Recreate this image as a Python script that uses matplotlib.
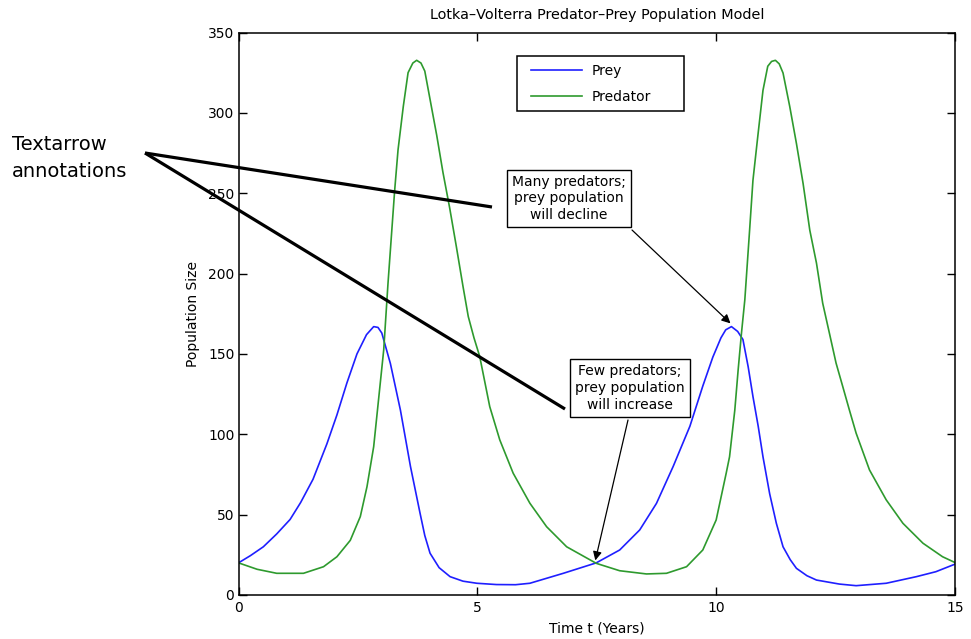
import matplotlib
matplotlib.use("Agg")
import matplotlib.pyplot as plt
from matplotlib.lines import Line2D
from matplotlib.patches import Rectangle

plt.rcParams['font.family'] = ['DejaVu Sans']

# values
prey_t = [0, 0.25, 0.52, 0.8, 1.08, 1.3, 1.56, 1.85, 2.06, 2.27, 2.48, 2.68, 2.83,
          2.92, 3.0, 3.18, 3.39, 3.6, 3.8, 3.9, 4.01, 4.2, 4.43, 4.7, 4.99,
          5.4, 5.8, 6.1, 6.8, 7.49, 7.98, 8.4, 8.75, 9.1, 9.45, 9.72, 9.93,
          10.1, 10.2, 10.32, 10.45, 10.56, 10.67, 10.77, 10.88, 10.98, 11.12,
          11.26, 11.4, 11.55, 11.68, 11.9, 12.1, 12.58, 12.93, 13.56, 14.19,
          14.6, 15.0]
prey = [20, 24.5, 30, 38, 47, 57.5, 72, 94, 112, 132, 150, 162, 167,
        166.5, 163, 144, 115, 80, 51, 37, 26, 17, 11.4, 8.6, 7.3,
        6.5, 6.4, 7.3, 13.5, 20, 28, 40.5, 57, 80, 105, 130, 148,
        160, 165, 167, 164, 159, 142, 123.5, 105, 86, 63,
        44.6, 30, 22, 16.6, 12, 9.3, 6.8, 5.8, 7.3, 11.4,
        14.5, 19.2]

pred_t = [0, 0.39, 0.8, 1.36, 1.78, 2.06, 2.34, 2.55, 2.69, 2.83, 2.93, 3.04,
          3.13, 3.2, 3.27, 3.34, 3.45, 3.55, 3.65, 3.73, 3.82, 3.9, 4.0, 4.15,
          4.28, 4.42, 4.56, 4.7, 4.81, 4.93, 5.05, 5.26, 5.47, 5.75, 6.1, 6.45,
          6.87, 7.49, 7.98, 8.54, 8.96, 9.38, 9.72, 10.0, 10.21, 10.28, 10.39,
          10.46, 10.53, 10.6, 10.7, 10.77, 10.87, 10.98, 11.08, 11.16, 11.24,
          11.32, 11.4, 11.54, 11.68, 11.82, 11.96, 12.1, 12.23, 12.37, 12.51,
          12.65, 12.79, 12.93, 13.21, 13.56, 13.91, 14.33, 14.74, 15.0]
pred = [20, 16, 13.5, 13.5, 17.6, 23.8, 34, 48.8, 67.4, 92.3, 121, 152.5,
        194, 223, 252, 277, 304, 325, 331, 332.7, 331, 326, 310, 286,
        263, 241, 216.9, 192, 173.3, 160, 148.4, 117.2, 96.5, 75.8, 57.1, 42.5,
        30, 19.7, 15.1, 13.1, 13.5, 17.6, 28, 46.7, 75.8, 86, 115,
        140, 163, 183.7, 227, 258, 285, 314, 329, 332, 332.7,
        330.5, 324.8, 304, 281, 256, 227, 206.5, 181.6, 163, 144.3,
        129.7, 115, 100.7, 77.8, 59.2, 44.6, 32.2, 23.8, 20.2]

x_ticks = [0, 5, 10, 15]
y_ticks = [0, 50, 100, 150, 200, 250, 300, 350]

W, H = 971, 639
fig = plt.figure(figsize=(W / 100, H / 100), dpi=100)
ax = fig.add_axes([238.5 / W, 1 - 595 / H, 716.5 / W, 562.5 / H])

ax.plot(prey_t, prey, color='#1f1fff', lw=1.2, label='Prey')
ax.plot(pred_t, pred, color='#2e9a2e', lw=1.2, label='Predator')

ax.set_xlim(0, 15)
ax.set_ylim(0, 350)
ax.set_xticks(x_ticks)
ax.set_yticks(y_ticks)
ax.tick_params(direction='in', length=6, width=1, top=True, right=True,
               labelsize=10, pad=4)
ax.tick_params(axis='y', pad=3)
for s in ax.spines.values():
    s.set_linewidth(1.1)

ax.set_title("Lotka\u2013Volterra Predator\u2013Prey Population Model",
             fontsize=10.4, pad=10)
ax.set_xlabel("Time t (Years)", fontsize=10, labelpad=5)
ax.set_ylabel("Population Size", fontsize=10, labelpad=6)

# legend without its own frame, framed by a rectangle like the reference
ax.legend(loc='upper left', bbox_to_anchor=(0.408, 0.944), fontsize=10,
          frameon=False, handlelength=3.7, handletextpad=0.65,
          borderpad=0, borderaxespad=0, labelspacing=0.85)
ax.add_patch(Rectangle((0.389, 0.8604), 0.2327, 0.0978, transform=ax.transAxes,
                       fill=False, ec='black', lw=1.1, zorder=5))


def fx(px):
    return px / W


def fy(py):
    return 1 - py / H


# the two thick textarrow lines
for ex, ey in [(492, 207), (565, 409)]:
    fig.add_artist(Line2D([fx(145), fx(ex)], [fy(153), fy(ey)],
                          color='black', lw=2.3, solid_capstyle='butt'))

fig.text(fx(12), fy(135), "Textarrow\nannotations", fontsize=14,
         va='top', ha='left', linespacing=1.55)

box = dict(boxstyle='square,pad=0.35', fc='white', ec='black', lw=1)
fig.text(fx(569), fy(198.5), "Many predators;\nprey population\nwill decline",
         fontsize=10, ha='center', va='center', bbox=box, linespacing=1.27)
fig.text(fx(630), fy(388), "Few predators;\nprey population\nwill increase",
         fontsize=10, ha='center', va='center', bbox=box, linespacing=1.27)

arrow = dict(arrowstyle='-|>', color='black', lw=0.9, mutation_scale=13,
             shrinkA=0, shrinkB=0)
ax.annotate('', xy=(10.3, 169), xycoords='data',
            xytext=(fx(632), fy(230)), textcoords='figure fraction',
            arrowprops=arrow)
ax.annotate('', xy=(7.47, 21.5), xycoords='data',
            xytext=(fx(628), fy(420)), textcoords='figure fraction',
            arrowprops=arrow)

fig.savefig("out.png", dpi=100)
